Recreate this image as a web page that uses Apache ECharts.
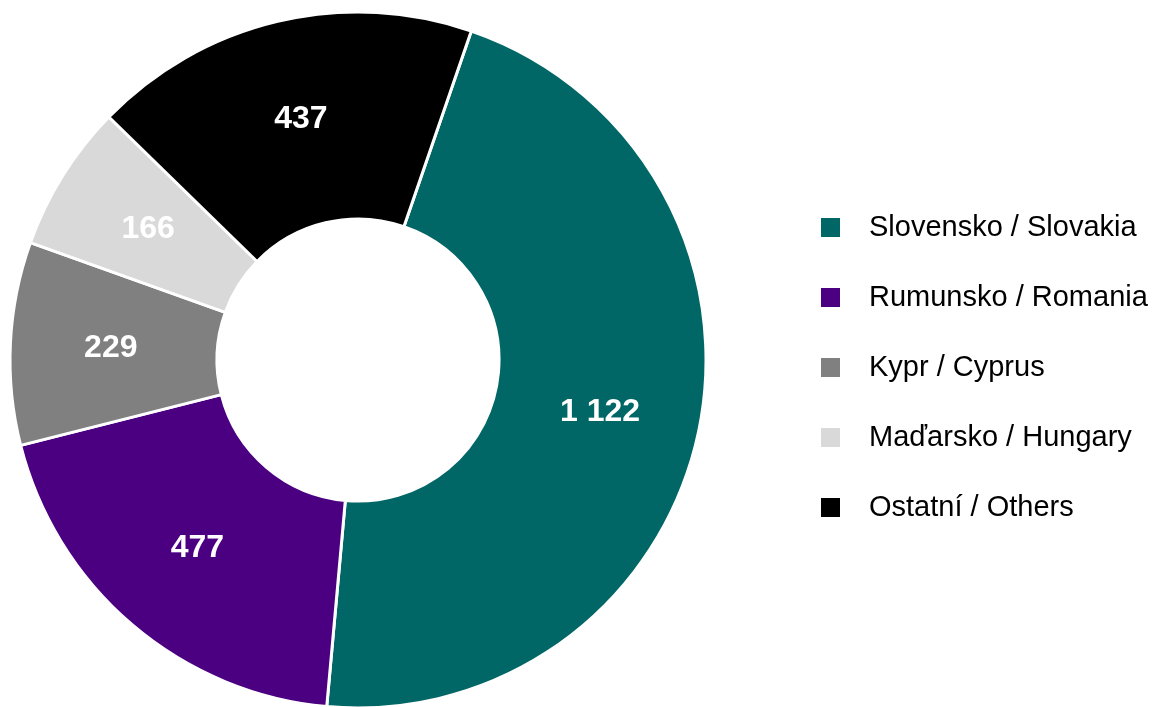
<!DOCTYPE html>
<html>
<head>
<meta charset="utf-8">
<script src="https://cdn.jsdelivr.net/npm/echarts@6/dist/echarts.min.js"></script>
<style>html,body{margin:0;padding:0;background:#fff;}#c{width:1155px;height:707px;}</style>
</head>
<body>
<div id="c"></div>
<script>
var categories = ['Slovensko / Slovakia', 'Rumunsko / Romania', 'Kypr / Cyprus', 'Maďarsko / Hungary', 'Ostatní / Others'];
var values = [1122, 477, 229, 166, 437];
var colors = ['#006666', '#4B0082', '#808080', '#D9D9D9', '#000000'];

var chart = echarts.init(document.getElementById('c'), null, {renderer: 'canvas'});
var data = categories.map(function (n, i) {
  return { name: n, value: values[i], itemStyle: { color: colors[i] } };
});
chart.setOption({
  animation: false,
  legend: {
    orient: 'vertical',
    left: 819,
    top: 213,
    padding: 0,
    icon: 'rect',
    itemWidth: 21,
    itemHeight: 21,
    itemGap: 41,
    textStyle: {
      fontFamily: 'Liberation Sans, Arial, sans-serif',
      fontSize: 29,
      color: '#000',
      padding: [0, 0, 0, 23]
    },
    data: categories
  },
  series: [{
    type: 'pie',
    center: [358, 360],
    radius: [141, 348],
    startAngle: 71,
    clockwise: true,
    avoidLabelOverlap: false,
    itemStyle: { borderColor: '#fff', borderWidth: 3 },
    label: {
      show: true,
      position: 'inside',
      color: '#fff',
      fontFamily: 'Liberation Sans, Arial, sans-serif',
      fontSize: 32,
      fontWeight: 'bold',
      formatter: function (p) {
        return String(p.value).replace(/\B(?=(\d{3})+(?!\d))/g, ' ');
      }
    },
    labelLine: { show: false },
    emphasis: { disabled: true },
    data: data
  }]
});
</script>
</body>
</html>
